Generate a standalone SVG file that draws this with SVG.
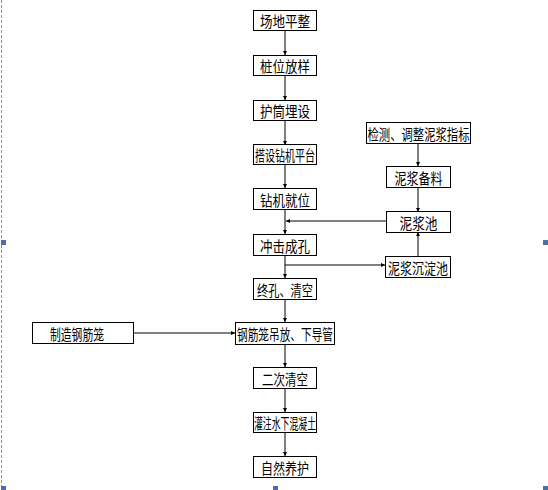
<svg xmlns="http://www.w3.org/2000/svg" width="548" height="490" viewBox="0 0 548 490">
<style>
.box{fill:#fff;stroke:#000;stroke-width:1}
.t{font-family:"Noto Sans CJK SC","Noto Sans CJK JP",sans-serif;font-size:15px;fill:#000;text-anchor:middle;dominant-baseline:central}
.c{stroke:#000;stroke-width:1;fill:none;marker-end:url(#ah)}
.h{fill:#4a6fa5}
</style>
<defs>
<marker id="ah" markerWidth="5" markerHeight="5" refX="4" refY="2.5" orient="auto" markerUnits="userSpaceOnUse">
<path d="M0,0.5 L4,2.5 L0,4.5 Z" fill="#000"/>
</marker>
</defs>
<rect width="548" height="490" fill="#fff"/>
<g id="frame">
<line x1="1.5" y1="0" x2="1.5" y2="490" stroke="#5b9bd5" stroke-width="1" stroke-dasharray="3,2"/>
<rect class="h" x="1" y="240" width="5" height="5"/>
<rect class="h" x="1" y="486" width="5" height="4"/>
<rect class="h" x="543" y="240" width="5" height="5"/>
<rect class="h" x="543" y="486" width="5" height="4"/>
<rect class="h" x="273" y="486" width="5" height="4"/>
</g>
<g id="connectors">
<line class="c" x1="285" y1="30" x2="285" y2="55"/>
<line class="c" x1="285" y1="75" x2="285" y2="100"/>
<line class="c" x1="285" y1="120" x2="285" y2="145"/>
<line class="c" x1="285" y1="165" x2="285" y2="188"/>
<line class="c" x1="285" y1="209" x2="285" y2="234"/>
<line class="c" x1="285" y1="255" x2="285" y2="278"/>
<line class="c" x1="285" y1="299" x2="285" y2="322"/>
<line class="c" x1="285" y1="344" x2="285" y2="367"/>
<line class="c" x1="285" y1="388" x2="285" y2="412"/>
<line class="c" x1="285" y1="432" x2="285" y2="456"/>
<line class="c" x1="386" y1="221" x2="286" y2="221"/>
<line class="c" x1="285" y1="265" x2="385" y2="265"/>
<line class="c" x1="418" y1="143" x2="418" y2="166"/>
<line class="c" x1="418" y1="187" x2="418" y2="212"/>
<line class="c" x1="418" y1="256" x2="418" y2="232"/>
<line class="c" x1="134" y1="333" x2="235" y2="333"/>
</g>
<g id="n1"><rect class="box" x="253.5" y="10.5" width="63" height="20"/><text class="t" x="285" y="20.5" textLength="50" lengthAdjust="spacingAndGlyphs">场地平整</text></g>
<g id="n2"><rect class="box" x="253.5" y="55.5" width="63" height="20"/><text class="t" x="285" y="65.5" textLength="50" lengthAdjust="spacingAndGlyphs">桩位放样</text></g>
<g id="n3"><rect class="box" x="253.5" y="100.5" width="63" height="20"/><text class="t" x="285" y="110.5" textLength="50" lengthAdjust="spacingAndGlyphs">护筒埋设</text></g>
<g id="n4"><rect class="box" x="253.5" y="144.5" width="63" height="20"/><text class="t" x="285" y="154.5" textLength="60" lengthAdjust="spacingAndGlyphs">搭设钻机平台</text></g>
<g id="n5"><rect class="box" x="253.5" y="188.5" width="63" height="21"/><text class="t" x="285" y="199" textLength="50" lengthAdjust="spacingAndGlyphs">钻机就位</text></g>
<g id="n6"><rect class="box" x="253.5" y="234.5" width="63" height="21"/><text class="t" x="285" y="245" textLength="50" lengthAdjust="spacingAndGlyphs">冲击成孔</text></g>
<g id="n7"><rect class="box" x="253.5" y="278.5" width="63" height="21"/><text class="t" x="285" y="289" textLength="56" lengthAdjust="spacingAndGlyphs">终孔、清空</text></g>
<g id="n8"><rect class="box" x="235.5" y="322.5" width="99" height="22"/><text class="t" x="285" y="333.5" textLength="96" lengthAdjust="spacingAndGlyphs">钢筋笼吊放、下导管</text></g>
<g id="n9"><rect class="box" x="253.5" y="367.5" width="63" height="21"/><text class="t" x="285" y="378" textLength="46" lengthAdjust="spacingAndGlyphs">二次清空</text></g>
<g id="n10"><rect class="box" x="253.5" y="412.5" width="63" height="20"/><text class="t" x="285" y="422.5" font-size="13" textLength="62" lengthAdjust="spacingAndGlyphs">灌注水下混凝土</text></g>
<g id="n11"><rect class="box" x="253.5" y="456.5" width="63" height="21"/><text class="t" x="285" y="467" textLength="48" lengthAdjust="spacingAndGlyphs">自然养护</text></g>
<g id="n12"><rect class="box" x="366.5" y="122.5" width="104" height="21"/><text class="t" x="418.5" y="133" textLength="102" lengthAdjust="spacingAndGlyphs">检测、调整泥浆指标</text></g>
<g id="n13"><rect class="box" x="386.5" y="166.5" width="64" height="21"/><text class="t" x="418.5" y="177" textLength="48" lengthAdjust="spacingAndGlyphs">泥浆备料</text></g>
<g id="n14"><rect class="box" x="386.5" y="211.5" width="64" height="21"/><text class="t" x="418.5" y="222" textLength="38" lengthAdjust="spacingAndGlyphs">泥浆池</text></g>
<g id="n15"><rect class="box" x="385.5" y="256.5" width="65" height="21"/><text class="t" x="418" y="267" textLength="60" lengthAdjust="spacingAndGlyphs">泥浆沉淀池</text></g>
<g id="n16"><rect class="box" x="32.5" y="322.5" width="101" height="21"/><text class="t" x="77" y="333" textLength="54" lengthAdjust="spacingAndGlyphs">制造钢筋笼</text></g>
</svg>
